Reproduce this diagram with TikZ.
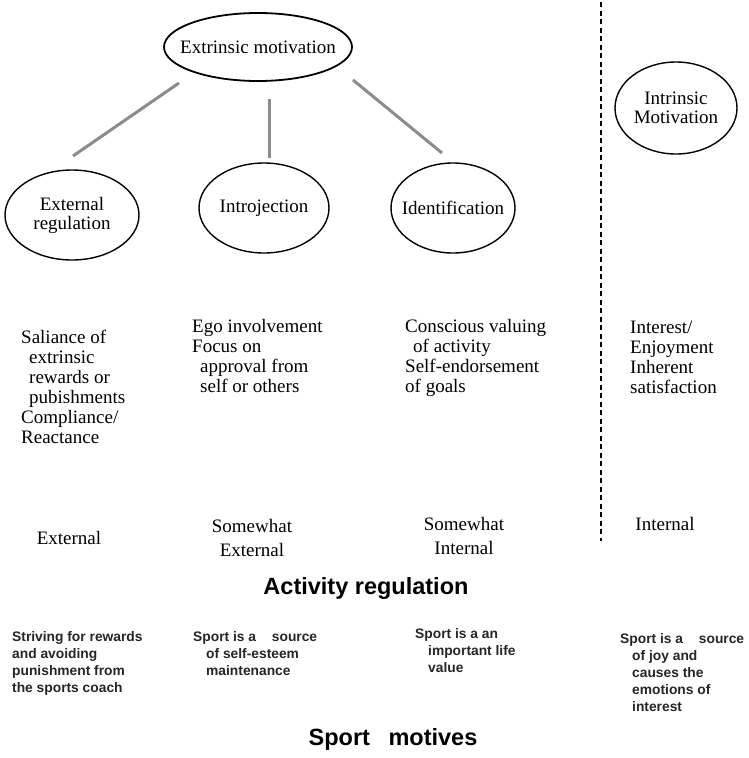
\documentclass[tikz,border=0pt]{standalone}
\usepackage{fontspec}
\setmainfont{Liberation Serif}
\newfontfamily\sansf{Liberation Sans}
\usetikzlibrary{shapes.geometric}
\begin{document}
\begin{tikzpicture}[x=1pt,y=-1pt,
 oval/.style={ellipse,draw=black,line width=1.4pt,inner sep=0pt},
 ovaltext/.style={font=\fontsize{19}{19}\selectfont,align=center,inner sep=0pt},
 serif/.style={inner sep=0pt,align=left,anchor=north west,font=\fontsize{19}{20}\selectfont},
 serifc/.style={inner sep=0pt,align=center,font=\fontsize{19}{24}\selectfont},
 small/.style={inner sep=0pt,align=left,anchor=north west,font=\sansf\bfseries\fontsize{13.8}{17}\selectfont,text=black!85},
 big/.style={inner sep=0pt,font=\sansf\bfseries\fontsize{23.5}{23.5}\selectfont},
 link/.style={draw=black!45,line width=3pt}]
\useasboundingbox (0,0) rectangle (749,758);
\fill[white] (0,0) rectangle (749,758);

% dashed divider
\coordinate (dtop) at (601,2);
\coordinate (dbot) at (601,541);
\draw[line width=1.4pt,dash pattern=on 5pt off 3.5pt] (dtop) -- (dbot);

% ellipses
\node[oval,line width=1.8pt,minimum width=188pt,minimum height=68pt,
      label={[ovaltext]center:Extrinsic motivation}] (em) at (258,47) {};
\node[oval,minimum width=134pt,minimum height=90pt,
      label={[ovaltext]center:External\\regulation}] (er) at (72,215) {};
\node[oval,minimum width=130pt,minimum height=90pt,
      label={[ovaltext]center:Introjection}] (ij) at (264,208) {};
\node[oval,minimum width=124pt,minimum height=90pt,
      label={[ovaltext]center:Identification}] (id) at (453,208) {};
\node[oval,minimum width=122pt,minimum height=92pt,
      label={[ovaltext]center:Intrinsic\\Motivation}] (im) at (676,108) {};

% connectors
\coordinate (l1a) at (179,83);
\coordinate (l1b) at (73,156);
\coordinate (l2a) at (269,99);
\coordinate (l2b) at (269,158);
\coordinate (l3a) at (353,80);
\coordinate (l3b) at (442,153);
\draw[link] (l1a) -- (l1b);
\draw[link] (l2a) -- (l2b);
\draw[link] (l3a) -- (l3b);

% descriptions
\node[serif] (t1) at (21,330) {Saliance of\\\hspace*{8pt}extrinsic\\\hspace*{8pt}rewards or\\\hspace*{8pt}pubishments\\Compliance/\\Reactance};
\node[serif] (t2) at (192,319) {Ego involvement\\Focus on\\\hspace*{8pt}approval from\\\hspace*{8pt}self or others};
\node[serif] (t3) at (405,319) {Conscious valuing\\\hspace*{8pt}of activity\\Self-endorsement\\of goals};
\node[serif] (t4) at (630,321) {Interest/\\Enjoyment\\Inherent\\satisfaction};

% regulation labels
\node[serifc] (r1) at (69,538) {External};
\node[serifc] (r2) at (252,538) {Somewhat\\External};
\node[serifc] (r3) at (464,536) {Somewhat\\Internal};
\node[serifc] (r4) at (665,524) {Internal};

\node[big] (ar) at (366,588) {Activity regulation};

% sport motives
\node[small] (s1) at (12,631) {Striving for rewards\\and avoiding\\punishment from\\the sports coach};
\node[small] (s2) at (193,631) {Sport is a\hspace{12pt} source\\\hspace*{13pt}of self-esteem\\\hspace*{13pt}maintenance};
\node[small] (s3) at (415,628) {Sport is a an\\\hspace*{13pt}important life\\\hspace*{13pt}value};
\node[small] (s4) at (620,633) {Sport is a\hspace{12pt} source\\\hspace*{12pt}of joy and\\\hspace*{12pt}causes the\\\hspace*{12pt}emotions of\\\hspace*{12pt}interest};

\node[big] (sm) at (393,739) {Sport\hspace{12pt} motives};
\end{tikzpicture}
\end{document}
